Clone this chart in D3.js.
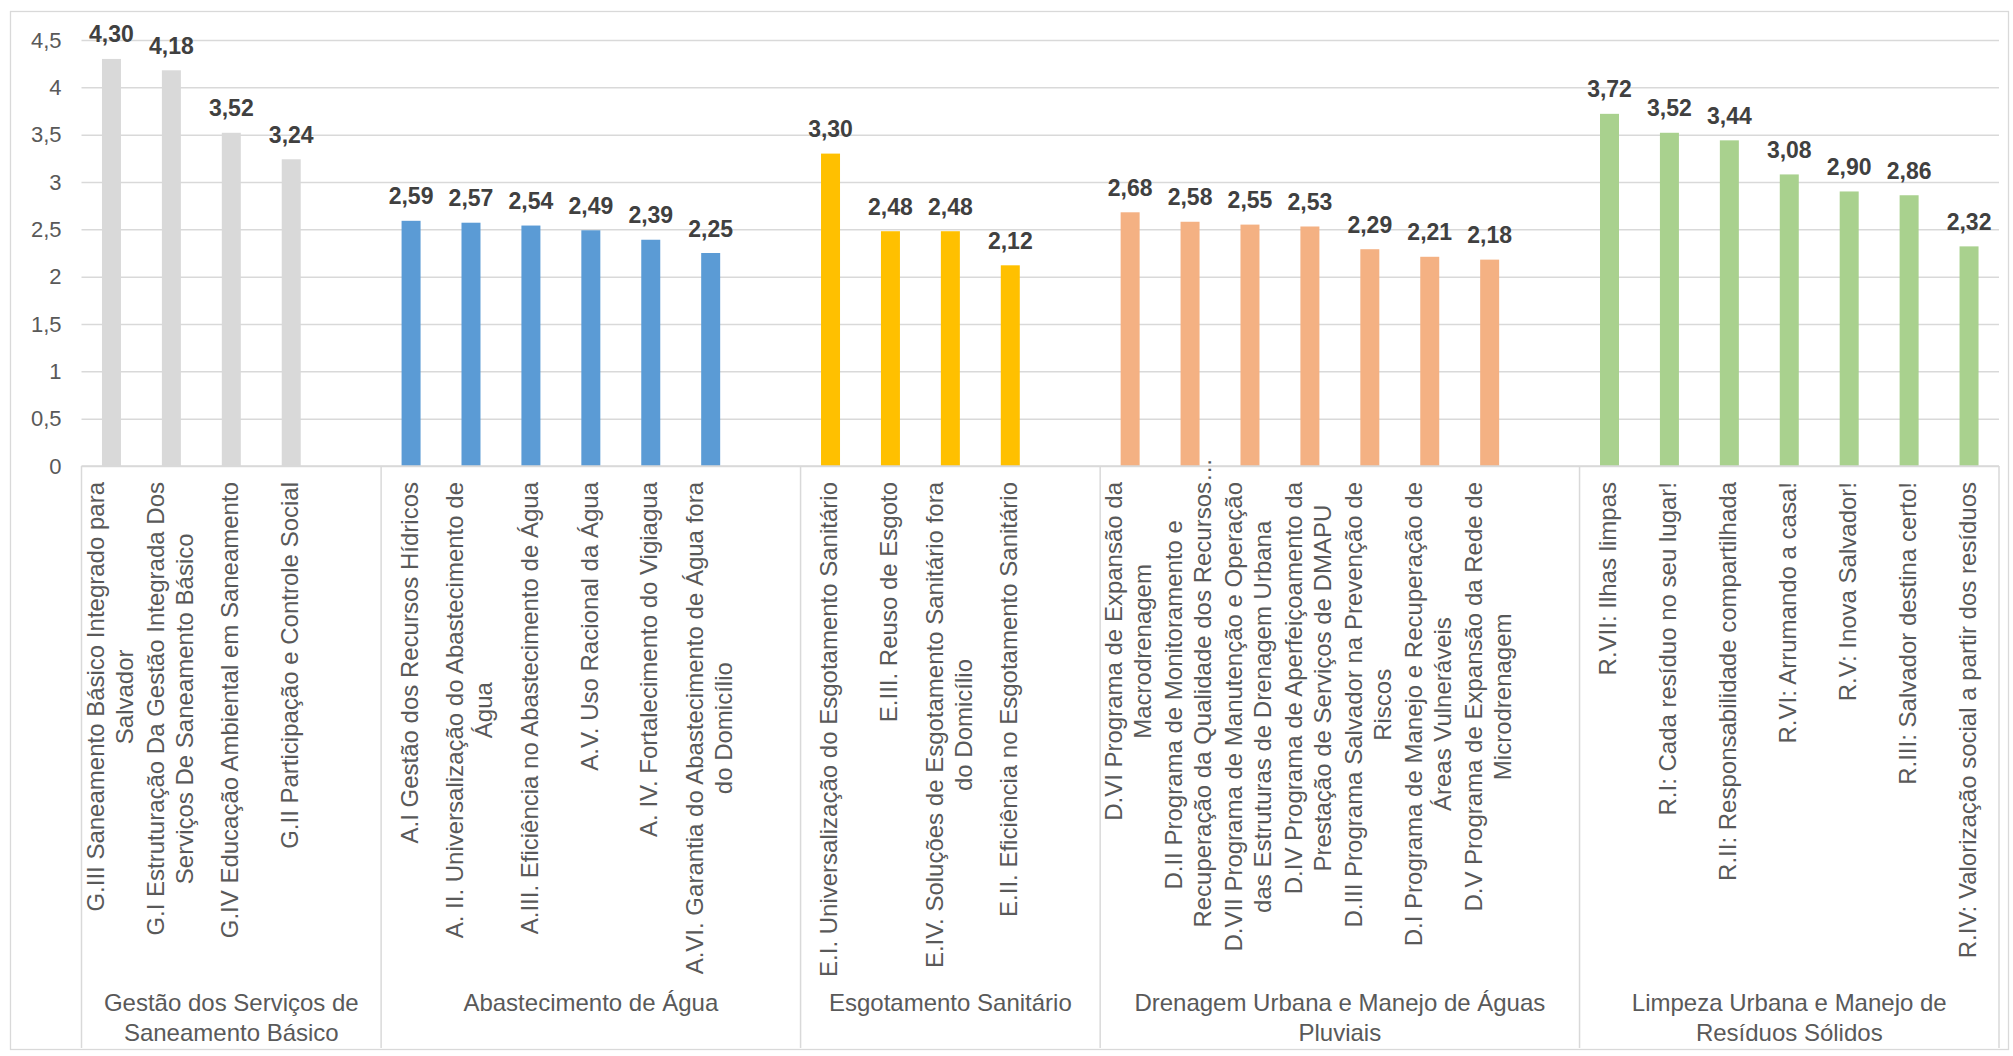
<!DOCTYPE html>
<html>
<head>
<meta charset="utf-8">
<script src="https://cdn.jsdelivr.net/npm/d3@7"></script>
<style>
  html, body { margin: 0; padding: 0; background: #fff; }
  svg { display: block; font-family: "Liberation Sans", Arial, sans-serif; }
</style>
</head>
<body>
<svg id="chart" width="2013" height="1056"></svg>
<script>
// ---- data ---------------------------------------------------------------
const groupNames = [
  "Gestão dos Serviços de\nSaneamento Básico",
  "Abastecimento de Água",
  "Esgotamento Sanitário",
  "Drenagem Urbana e Manejo de Águas\nPluviais",
  "Limpeza Urbana e Manejo de\nResíduos Sólidos"
];

const gestaoLabels = [
  "G.III Saneamento Básico Integrado para\nSalvador",
  "G.I Estruturação Da Gestão Integrada Dos\nServiços De Saneamento Básico",
  "G.IV Educação Ambiental em Saneamento",
  "G.II Participação e Controle Social"
];
const gestaoValues = [4.30, 4.18, 3.52, 3.24];

const aguaLabels = [
  "A.I Gestão dos Recursos Hídricos",
  "A. II. Universalização do Abastecimento de\nÁgua",
  "A.III. Eficiência no Abastecimento de Água",
  "A.V. Uso Racional da Água",
  "A. IV. Fortalecimento do Vigiagua",
  "A.VI. Garantia do Abastecimento de Água fora\ndo Domicílio"
];
const aguaValues = [2.59, 2.57, 2.54, 2.49, 2.39, 2.25];

const esgotoLabels = [
  "E.I. Universalização do Esgotamento Sanitário",
  "E.III. Reuso de Esgoto",
  "E.IV. Soluções de Esgotamento Sanitário fora\ndo Domicílio",
  "E.II. Eficiência no Esgotamento Sanitário"
];
const esgotoValues = [3.30, 2.48, 2.48, 2.12];

const drenagemLabels = [
  "D.VI Programa de Expansão da\nMacrodrenagem",
  "D.II Programa de Monitoramento e\nRecuperação da Qualidade dos Recursos…",
  "D.VII Programa de Manutenção e Operação\ndas Estruturas de Drenagem Urbana",
  "D.IV Programa de Aperfeiçoamento da\nPrestação de Serviços de DMAPU",
  "D.III Programa Salvador na Prevenção de\nRiscos",
  "D.I Programa de Manejo e Recuperação de\nÁreas Vulneráveis",
  "D.V Programa de Expansão da Rede de\nMicrodrenagem"
];
const drenagemValues = [2.68, 2.58, 2.55, 2.53, 2.29, 2.21, 2.18];

const residuosLabels = [
  "R.VII: Ilhas limpas",
  "R.I: Cada resíduo no seu lugar!",
  "R.II: Responsabilidade compartilhada",
  "R.VI: Arrumando a casa!",
  "R.V: Inova Salvador!",
  "R.III: Salvador destina certo!",
  "R.IV: Valorização social a partir dos resíduos"
];
const residuosValues = [3.72, 3.52, 3.44, 3.08, 2.90, 2.86, 2.32];

// number of empty slots that close each group on the category axis
const trailingBlanks = [1, 1, 1, 1, 0];

const yTickValues = [0, 0.5, 1, 1.5, 2, 2.5, 3, 3.5, 4, 4.5];

const groupColors = ["#D9D9D9", "#5B9BD5", "#FFC000", "#F4B183", "#A9D18E"];

// ---- assemble ------------------------------------------------------------
const groupLabelLists = [gestaoLabels, aguaLabels, esgotoLabels, drenagemLabels, residuosLabels];
const groupValueLists = [gestaoValues, aguaValues, esgotoValues, drenagemValues, residuosValues];

const groups = groupNames.map((name, gi) => ({
  name,
  color: groupColors[gi],
  items: groupLabelLists[gi].map((label, i) => ({
    key: `g${gi}-${i}`, label, value: groupValueLists[gi][i], gi
  })),
  blanks: d3.range(trailingBlanks[gi]).map(b => `g${gi}-blank${b}`)
}));

const slotKeys = groups.flatMap(g => [...g.items.map(d => d.key), ...g.blanks]);
const bars = groups.flatMap(g => g.items);

const ptBR = d3.formatLocale({ decimal: ",", thousands: ".", grouping: [3], currency: ["R$", ""] });
const fmtValue = ptBR.format(".2f");
const fmtTick = ptBR.format("~g");

// ---- layout --------------------------------------------------------------
const plotLeft = 81.5, plotRight = 1999;
const yZero = 466, yTop = 40;
const axisBottom = 1048;
const gridColor = "#D9D9D9";
const fontFamily = '"Liberation Sans", Arial, sans-serif';

const svg = d3.select("#chart");

const x = d3.scaleBand().domain(slotKeys).range([plotLeft, plotRight]).paddingInner(0).paddingOuter(0);
const y = d3.scaleLinear().domain([0, 4.5]).range([yZero, yTop]);
const barW = x.bandwidth() * 0.317;

// chart frame
svg.append("rect")
  .attr("x", 10.5).attr("y", 11.5)
  .attr("width", 1998).attr("height", 1038)
  .attr("fill", "#fff").attr("stroke", gridColor).attr("stroke-width", 1.3);

// value axis: gridlines + labels
const yAxis = d3.axisLeft(y)
  .tickValues(yTickValues)
  .tickFormat(fmtTick)
  .tickSize(-(plotRight - plotLeft))
  .tickPadding(20);

const yG = svg.append("g")
  .attr("transform", `translate(${plotLeft},0)`)
  .call(yAxis);
yG.select(".domain").remove();
yG.selectAll(".tick line").attr("stroke", gridColor).attr("stroke-width", 1.5);
yG.selectAll(".tick text")
  .attr("fill", "#595959")
  .style("font-size", "22px")
  .style("font-family", fontFamily);

// bars
svg.append("g").selectAll("rect")
  .data(bars)
  .join("rect")
  .attr("x", d => x(d.key) + (x.bandwidth() - barW) / 2)
  .attr("y", d => y(d.value))
  .attr("width", barW)
  .attr("height", d => y(0) - y(d.value))
  .attr("fill", d => groups[d.gi].color);

// value labels
svg.append("g").selectAll("text")
  .data(bars)
  .join("text")
  .attr("x", d => x(d.key) + x.bandwidth() / 2)
  .attr("y", d => y(d.value) - 16.5)
  .attr("text-anchor", "middle")
  .attr("fill", "#404040")
  .style("font-size", "23px")
  .style("font-weight", "bold")
  .text(d => fmtValue(d.value));

// category axis line and group separators
svg.append("line")
  .attr("x1", plotLeft).attr("x2", plotRight)
  .attr("y1", yZero).attr("y2", yZero)
  .attr("stroke", gridColor).attr("stroke-width", 1.5);

const groupBounds = groups.map(g => {
  const keys = [...g.items.map(d => d.key), ...g.blanks];
  return { x0: x(keys[0]), x1: x(keys[keys.length - 1]) + x.bandwidth(), name: g.name };
});
const sepXs = [plotLeft, ...groupBounds.map(b => b.x1)];
svg.append("g").selectAll("line")
  .data(sepXs)
  .join("line")
  .attr("x1", d => d).attr("x2", d => d)
  .attr("y1", yZero).attr("y2", axisBottom)
  .attr("stroke", gridColor).attr("stroke-width", 1.5);

// rotated category labels; lines are centred on the longest one,
// a trailing ellipsis is left hanging past the top of the block
const catFont = 24, catLine = 29, catTop = 482;
const ELLIPSIS = "…";
const catG = svg.append("g").selectAll("g")
  .data(bars)
  .join("g")
  .attr("transform", d => `translate(${x(d.key) + x.bandwidth() / 2},${catTop}) rotate(-90)`);

const probe = svg.append("text").style("font-size", catFont + "px").attr("visibility", "hidden");
const measure = s => probe.text(s).node().getComputedTextLength();

catG.each(function (d) {
  const g = d3.select(this);
  const lines = d.label.split("\n");
  const n = lines.length;
  const baseLens = lines.map(l => measure(l.endsWith(ELLIPSIS) ? l.slice(0, -1) : l));
  const maxLen = d3.max(baseLens);
  g.selectAll("text")
    .data(lines)
    .join("text")
    .attr("fill", "#595959")
    .style("font-size", catFont + "px")
    .attr("x", (l, i) => -maxLen / 2 - baseLens[i] / 2)
    .attr("y", (l, i) => (i - (n - 1) / 2) * catLine + catFont * 0.28)
    .text(l => l);
});
probe.remove();

// group labels under the category labels
const grpFont = 24, grpLine = 30, grpBase = 1011;
svg.append("g").selectAll("text")
  .data(groupBounds)
  .join("text")
  .attr("text-anchor", "middle")
  .attr("fill", "#595959")
  .style("font-size", grpFont + "px")
  .each(function (b) {
    const lines = b.name.split("\n");
    d3.select(this).selectAll("tspan")
      .data(lines)
      .join("tspan")
      .attr("x", (b.x0 + b.x1) / 2)
      .attr("y", (l, i) => grpBase + i * grpLine)
      .text(l => l);
  });
</script>
</body>
</html>
